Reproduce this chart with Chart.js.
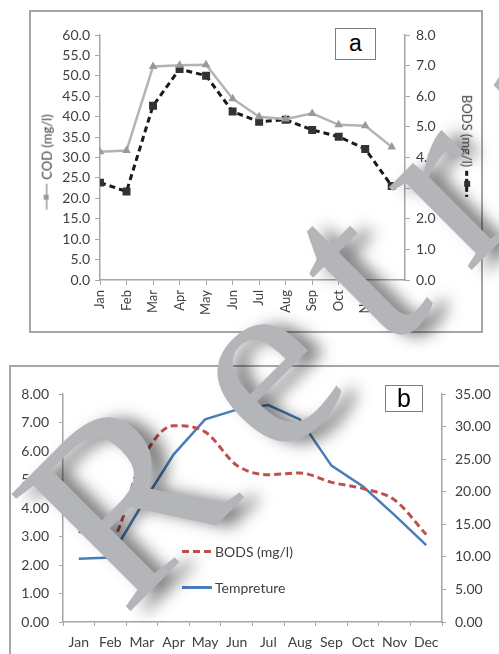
<!doctype html>
<html lang="en">
  <head>
    <meta charset="utf-8">
    <title>COD, BODS and temperature by month</title>
    <style>
      * { margin: 0; padding: 0; }
      body {
        width: 499px;
        height: 654px;
        overflow: hidden;
        background: white;
        position: relative;
        font-family: Lato, sans-serif;
        color: #404040;
      }
      .frame {
        position: absolute;
        border: 2px solid #a6a6a6;
        background: white;
      }
      #frameA { left: 29px; top: 10px; width: 450px; height: 319px; }
      #frameB { left: 9px; top: 365px; width: 520px; height: 320px; }
      canvas { position: absolute; }
      #chartA { left: 31px; top: 12px; }
      #chartB { left: 11px; top: 367px; }
      .tag {
        position: absolute;
        border: 1.5px solid #7f7f7f;
        background: white;
        color: black;
        font-family: "Liberation Sans", Arial, sans-serif;
        text-align: center;
      }
      #tagA { left: 335px; top: 28px; width: 39px; height: 30px; font-size: 23px; line-height: 28px; }
      #tagB { left: 385px; top: 385px; width: 36px; height: 25px; font-size: 25px; line-height: 25px; }
      .axTitle {
        position: absolute;
        font-size: 13px;
        white-space: nowrap;
        display: flex;
        align-items: center;
        transform-origin: 50% 50%;
      }
      .key { display: inline-block; position: relative; width: 26px; height: 3px; margin: 0 4px; }
      .key i { position: absolute; left: 10px; top: -2px; width: 6px; height: 6px; }
      #titleL .key { background: #b3b3b3; height: 2px; }
      #titleL .key i { background: #9a9a9a; width: 5px; height: 5px; }
      #titleR .key { background: repeating-linear-gradient(90deg, #1a1a1a 0 5px, transparent 5px 8px); }
      #titleR .key i { background: #333; }
      .legB {
        position: absolute;
        left: 182px;
        font-size: 14px;
        white-space: nowrap;
        display: flex;
        align-items: center;
      }
      .legB span.line { display: inline-block; width: 30px; height: 3px; margin-right: 3px; }
      #legBods { top: 543px; }
      #legBods span.line { background: repeating-linear-gradient(90deg, #c0504d 0 7px, transparent 7px 11px); }
      #legTemp { top: 579px; }
      #legTemp span.line { background: #4a7ebb; height: 2.5px; }
      #stamp {
        position: absolute;
        left: 125px;
        top: 618px;
        font-family: "Liberation Serif", "Tinos", "Times New Roman", "DejaVu Serif", serif;
        font-size: 255px;
        line-height: 255px;
        letter-spacing: 44px;
        white-space: nowrap;
        color: #b3b5b8;
        text-shadow: 10px 12px 16px rgba(0, 0, 0, 0.5);
        transform-origin: 0 0;
        transform: rotate(-45deg) translateY(-214px);
        pointer-events: none;
        z-index: 10;
      }
    </style>
  </head>
  <body>
    <div class="frame" id="frameA"></div>
    <canvas id="chartA" width="450" height="319"></canvas>
    <div class="tag" id="tagA">a</div>
    <div class="axTitle" id="titleL"><span class="key"><i></i></span><span>COD (mg/l)</span></div>
    <div class="axTitle" id="titleR"><span>BODS (mg/l)</span><span class="key"><i></i></span></div>

    <div class="frame" id="frameB"></div>
    <canvas id="chartB" width="488" height="287"></canvas>
    <div class="tag" id="tagB">b</div>
    <div class="legB" id="legBods"><span class="line"></span>BODS (mg/l)</div>
    <div class="legB" id="legTemp"><span class="line"></span>Tempreture</div>

    <div id="stamp">Retracted</div>

    <script src="https://cdn.jsdelivr.net/npm/chart.js"></script>
    <script>
    // data
    const months = ['Jan', 'Feb', 'Mar', 'Apr', 'May', 'Jun', 'Jul', 'Aug', 'Sep', 'Oct', 'Nov', 'Dec'];
    const codVals = [31.4, 31.7, 52.3, 52.6, 52.7, 44.4, 40.0, 39.4, 40.8, 38.0, 37.8, 32.6];
    const bodsVals = [3.18, 2.89, 5.69, 6.89, 6.67, 5.5, 5.17, 5.23, 4.9, 4.68, 4.28, 3.07];
    const tempVals = [9.7, 9.9, 18.0, 25.7, 31.1, 32.6, 33.3, 31.1, 24.0, 20.8, 16.4, 11.8];

    Chart.defaults.font.family = 'Lato, sans-serif';
    Chart.defaults.color = '#404040';

    const axisGrey = '#a6a6a6';
    const tickGrid = (len) => ({
      display: true,
      drawOnChartArea: false,
      drawTicks: true,
      tickLength: len,
      color: axisGrey
    });
    const axisBorder = { display: true, color: axisGrey, width: 1.5 };
    const fixW = (w) => (scale) => { scale.width = w; };
    const fixH = (h) => (scale) => { scale.height = h; };

    // chart a
    const chartA = new Chart(document.getElementById('chartA'), {
      type: 'line',
      data: {
        datasets: [{
          label: 'COD (mg/l)',
          data: codVals.map((v, i) => ({ x: i, y: v })),
          yAxisID: 'y',
          borderColor: '#b3b3b3',
          borderWidth: 2.5,
          pointStyle: 'triangle',
          pointRadius: 2.5,
          pointBackgroundColor: '#9a9a9a',
          pointBorderColor: '#9a9a9a'
        }, {
          label: 'BODS (mg/l)',
          data: bodsVals.map((v, i) => ({ x: i, y: v })),
          yAxisID: 'y1',
          borderColor: '#1a1a1a',
          borderWidth: 3,
          borderDash: [6, 4],
          pointStyle: 'rect',
          pointRadius: 3.5,
          pointBackgroundColor: '#333',
          pointBorderColor: '#333'
        }]
      },
      options: {
        responsive: false,
        animation: false,
        layout: { padding: { top: 23, left: 0, right: 0, bottom: 0 } },
        plugins: { legend: { display: false }, tooltip: { enabled: false } },
        scales: {
          x: {
            type: 'linear',
            min: 0,
            max: 11.5,
            afterFit: fixH(51),
            afterBuildTicks: (scale) => {
              scale.ticks = scale.ticks.filter(t => Number.isInteger(t.value));
            },
            ticks: {
              stepSize: 1,
              minRotation: 90,
              maxRotation: 90,
              padding: 5,
              font: { size: 13 },
              callback: (v) => months[v]
            },
            grid: tickGrid(5),
            border: axisBorder
          },
          y: {
            position: 'left',
            min: 0,
            max: 60,
            afterFit: fixW(69),
            ticks: { stepSize: 5, padding: 5, font: { size: 14 }, callback: (v) => v.toFixed(1) },
            grid: tickGrid(5),
            border: axisBorder
          },
          y1: {
            position: 'right',
            min: 0,
            max: 8,
            afterFit: fixW(76),
            ticks: { stepSize: 1, padding: 6, font: { size: 14 }, callback: (v) => v.toFixed(1) },
            grid: tickGrid(5),
            border: axisBorder
          }
        }
      }
    });

    // chart b
    const chartB = new Chart(document.getElementById('chartB'), {
      type: 'line',
      data: {
        labels: months,
        datasets: [{
          label: 'BODS (mg/l)',
          data: bodsVals,
          yAxisID: 'y',
          borderColor: '#c0504d',
          borderWidth: 3,
          borderDash: [7, 4],
          cubicInterpolationMode: 'monotone',
          pointRadius: 0
        }, {
          label: 'Tempreture',
          data: tempVals,
          yAxisID: 'y1',
          borderColor: '#4a7ebb',
          borderWidth: 2.5,
          pointRadius: 0
        }]
      },
      options: {
        responsive: false,
        animation: false,
        layout: { padding: { top: 27, left: 0, right: 0, bottom: 0 } },
        plugins: { legend: { display: false }, tooltip: { enabled: false } },
        scales: {
          x: {
            offset: true,
            afterFit: fixH(32),
            ticks: { padding: 8, maxRotation: 0, font: { size: 14 } },
            grid: Object.assign(tickGrid(4), { offset: true }),
            border: axisBorder
          },
          y: {
            position: 'left',
            min: 0,
            max: 8,
            afterFit: fixW(52),
            ticks: { stepSize: 1, padding: 10, font: { size: 14 }, callback: (v) => v.toFixed(2) },
            grid: tickGrid(4),
            border: axisBorder
          },
          y1: {
            position: 'right',
            min: 0,
            max: 35,
            afterFit: fixW(57),
            ticks: { stepSize: 5, padding: 9, font: { size: 14 }, callback: (v) => v.toFixed(2) },
            grid: tickGrid(4),
            border: axisBorder
          }
        }
      }
    });

    // place the rotated axis titles of chart a around their centres
    function placeTitle(id, cx, cy, deg) {
      const el = document.getElementById(id);
      el.style.left = (cx - el.offsetWidth / 2) + 'px';
      el.style.top = (cy - el.offsetHeight / 2) + 'px';
      el.style.transform = 'rotate(' + deg + 'deg)';
    }
    placeTitle('titleL', 46, 164, -90);
    placeTitle('titleR', 467, 148, 90);
    </script>
  </body>
</html>
